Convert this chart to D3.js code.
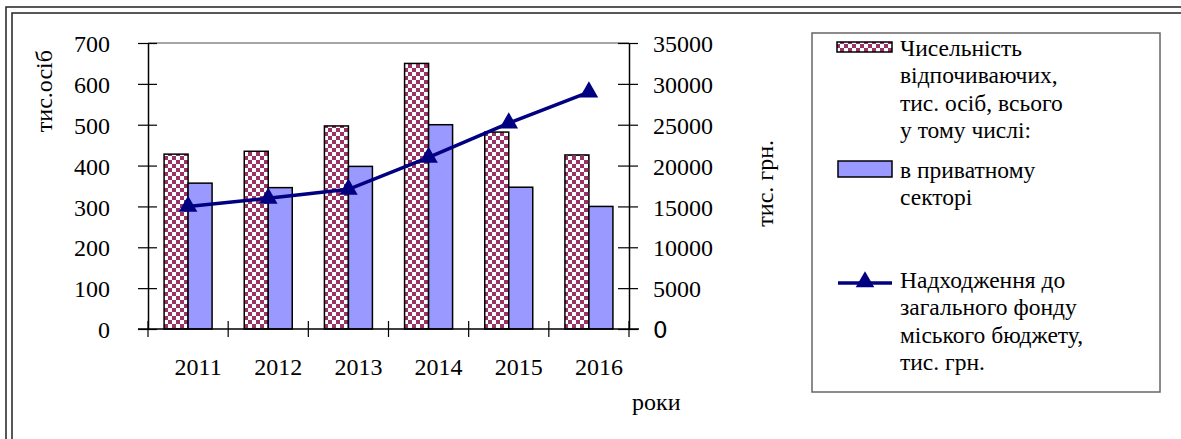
<!DOCTYPE html>
<html>
<head>
<meta charset="utf-8">
<script src="https://cdnjs.cloudflare.com/ajax/libs/d3/7.8.5/d3.min.js"></script>
<style>
  body { margin: 0; background: #fff; }
  svg text { fill: #000; }
</style>
</head>
<body>
<div id="chart"></div>
<script>
// chart data
var years = ["2011", "2012", "2013", "2014", "2015", "2016"];
var totalVisitors = [428, 435, 497, 650, 482, 426];   // тис. осіб, всього
var privateVisitors = [357, 346, 398, 500, 347, 300]; // в приватному секторі
var budgetIncome = [15000, 16000, 17100, 21000, 25200, 29000]; // тис. грн.
var leftTicks = [0, 100, 200, 300, 400, 500, 600, 700];
var rightTicks = [0, 5000, 10000, 15000, 20000, 25000, 30000, 35000];
var legendTotal = ["Чисельність", "відпочиваючих,", "тис. осіб, всього", "у тому числі:"];
var legendPrivate = ["в приватному", "секторі"];
var legendIncome = ["Надходження до", "загального фонду", "міського бюджету,", "тис. грн."];

var svgWidth = 1181;
var svgHeight = 439;
var serif = "'Liberation Serif', 'Times New Roman', serif";

var plot = { left: 148, right: 629, top: 43, bottom: 329 };

var svg = d3.select("#chart")
    .append("svg")
    .attr("width", svgWidth)
    .attr("height", svgHeight)
    .style("font-family", serif);

// checker pattern for the first series
var defs = svg.append("defs");
var pat = defs.append("pattern")
    .attr("id", "checker")
    .attr("patternUnits", "userSpaceOnUse")
    .attr("width", 8)
    .attr("height", 8);
pat.append("rect").attr("width", 8).attr("height", 8).attr("fill", "#fff");
pat.append("rect").attr("width", 4).attr("height", 4).attr("fill", "#993366");
pat.append("rect").attr("x", 4).attr("y", 4).attr("width", 4).attr("height", 4).attr("fill", "#993366");

// outer double frame (top and left only)
svg.append("path")
    .attr("d", "M6,439 V7 H1181")
    .attr("fill", "none").attr("stroke", "#222").attr("stroke-width", 1.5);
svg.append("path")
    .attr("d", "M12,439 V13 H1181")
    .attr("fill", "none").attr("stroke", "#222").attr("stroke-width", 1.5);

// scales
var x = d3.scaleBand()
    .domain(years)
    .range([plot.left, plot.right])
    .padding(0);

var x1 = d3.scaleBand()
    .domain(["total", "private"])
    .range([0, x.bandwidth()])
    .paddingInner(0)
    .paddingOuter(0.67);

var yLeft = d3.scaleLinear().domain([0, 700]).range([plot.bottom, plot.top]);
var yRight = d3.scaleLinear().domain([0, 35000]).range([plot.bottom, plot.top]);

// plot area top border
svg.append("line")
    .attr("x1", plot.left).attr("x2", plot.right)
    .attr("y1", plot.top).attr("y2", plot.top)
    .attr("stroke", "#888").attr("stroke-width", 1.5);

// bars
var rows = years.map(function(y, i) {
    return { year: y, total: totalVisitors[i], priv: privateVisitors[i], income: budgetIncome[i] };
});

svg.selectAll(".barTotal")
    .data(rows)
    .enter()
    .append("rect")
    .attr("class", "barTotal")
    .attr("x", d => x(d.year) + x1("total"))
    .attr("y", d => yLeft(d.total))
    .attr("width", x1.bandwidth())
    .attr("height", d => yLeft(0) - yLeft(d.total))
    .attr("fill", "url(#checker)")
    .attr("stroke", "#000")
    .attr("stroke-width", 1.5);

svg.selectAll(".barPrivate")
    .data(rows)
    .enter()
    .append("rect")
    .attr("class", "barPrivate")
    .attr("x", d => x(d.year) + x1("private"))
    .attr("y", d => yLeft(d.priv))
    .attr("width", x1.bandwidth())
    .attr("height", d => yLeft(0) - yLeft(d.priv))
    .attr("fill", "#9999ff")
    .attr("stroke", "#000")
    .attr("stroke-width", 1.5);

// axes
var leftAxis = d3.axisLeft(yLeft).tickValues(leftTicks).tickSize(0).tickPadding(38);
var gLeft = svg.append("g")
    .attr("transform", `translate(${plot.left},0)`)
    .call(leftAxis);

var rightAxis = d3.axisRight(yRight).tickValues(rightTicks)
    .tickFormat(d3.format("d")).tickSize(0).tickPadding(24);
var gRight = svg.append("g")
    .attr("transform", `translate(${plot.right},0)`)
    .call(rightAxis);

var bottomAxis = d3.axisBottom(x).tickSize(0).tickPadding(29);
var gBottom = svg.append("g")
    .attr("transform", `translate(0,${plot.bottom})`)
    .call(bottomAxis);

[gLeft, gRight, gBottom].forEach(function(g) {
    g.attr("font-family", null).attr("font-size", null);
    g.select(".domain").attr("stroke", "#000").attr("stroke-width", 1.5);
    g.selectAll("text")
        .style("font-family", serif)
        .style("font-size", "24px");
});
gBottom.select(".domain").attr("d", `M${plot.left - 10},0H${plot.right + 10}`);
gBottom.selectAll(".tick text").attr("dx", 10);

// crossing tick marks
gLeft.selectAll(".tick").append("line")
    .attr("x1", -10).attr("x2", 9).attr("stroke", "#000").attr("stroke-width", 1.2);
gRight.selectAll(".tick").append("line")
    .attr("x1", -11).attr("x2", 9).attr("stroke", "#000").attr("stroke-width", 1.2);
gLeft.selectAll(".tick text").attr("dy", "0.36em");
gRight.selectAll(".tick text").attr("dy", "0.36em");
// zero label on the right is drawn in a sans font in the original
gRight.selectAll(".tick text").filter(d => d === 0)
    .style("font-family", "'DejaVu Sans', sans-serif").style("font-size", "23px");

// category boundary ticks
var bounds = years.map(d => x(d)).concat([plot.right]);
svg.selectAll(".catTick")
    .data(bounds)
    .enter()
    .append("line")
    .attr("class", "catTick")
    .attr("x1", d => d).attr("x2", d => d)
    .attr("y1", plot.bottom - 8).attr("y2", plot.bottom + 8)
    .attr("stroke", "#000").attr("stroke-width", 1.2);

// income line
var line = d3.line()
    .x(d => x(d.year) + x.bandwidth() / 2)
    .y(d => yRight(d.income));

svg.append("path")
    .datum(rows)
    .attr("d", line)
    .attr("fill", "none")
    .attr("stroke", "#000080")
    .attr("stroke-width", 3.5);

var tri = d3.symbol().type(d3.symbolTriangle).size(150);
svg.selectAll(".marker")
    .data(rows)
    .enter()
    .append("path")
    .attr("class", "marker")
    .attr("d", tri)
    .attr("transform", d => `translate(${x(d.year) + x.bandwidth() / 2},${yRight(d.income)})`)
    .attr("fill", "#000080");

// axis titles
svg.append("text")
    .attr("transform", "translate(52,50) rotate(-90)")
    .attr("text-anchor", "end")
    .style("font-size", "24px")
    .text("тис.осіб");

svg.append("text")
    .attr("transform", "translate(773,140) rotate(-90)")
    .attr("text-anchor", "end")
    .style("font-size", "24px")
    .text("тис. грн.");

svg.append("text")
    .attr("x", 632)
    .attr("y", 410)
    .style("font-size", "24px")
    .text("роки");

// legend
var legend = svg.append("g");
legend.append("rect")
    .attr("x", 812).attr("y", 33)
    .attr("width", 348).attr("height", 359)
    .attr("fill", "#fff")
    .attr("stroke", "#666").attr("stroke-width", 1.5);

legend.append("rect")
    .attr("x", 837).attr("y", 42).attr("width", 55).attr("height", 10)
    .attr("fill", "url(#checker)").attr("stroke", "#000").attr("stroke-width", 1.5);
legend.append("rect")
    .attr("x", 838).attr("y", 161).attr("width", 54).attr("height", 16)
    .attr("fill", "#9999ff").attr("stroke", "#000").attr("stroke-width", 1.5);
legend.append("line")
    .attr("x1", 838).attr("x2", 892).attr("y1", 283).attr("y2", 283)
    .attr("stroke", "#000080").attr("stroke-width", 3.5);
legend.append("path")
    .attr("d", tri)
    .attr("transform", "translate(865,282)")
    .attr("fill", "#000080");

function legendLines(lines, y0) {
    legend.selectAll(null)
        .data(lines)
        .enter()
        .append("text")
        .attr("x", 900)
        .attr("y", (d, i) => y0 + i * 27.3)
        .style("font-size", "23.5px")
        .text(d => d);
}
legendLines(legendTotal, 56);
legendLines(legendPrivate, 178);
legendLines(legendIncome, 288);
</script>
</body>
</html>
